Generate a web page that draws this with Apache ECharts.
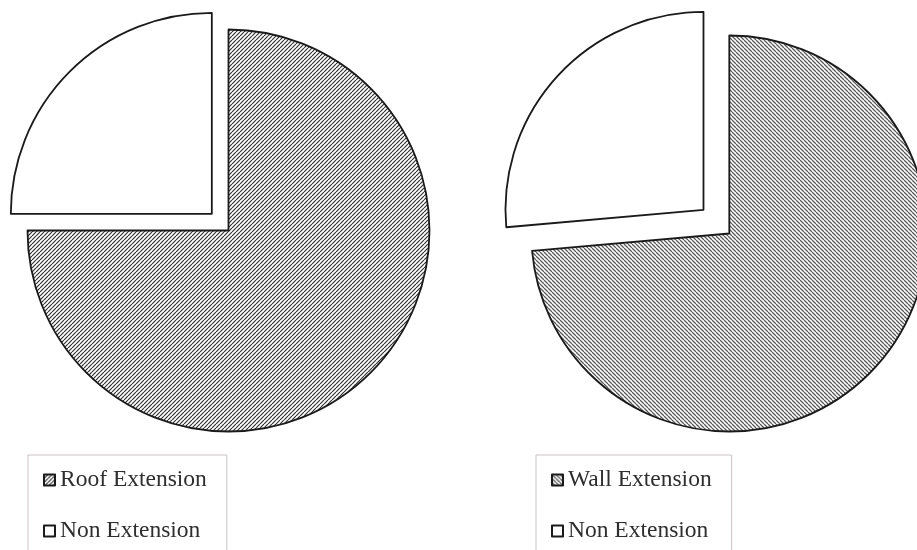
<!DOCTYPE html>
<html>
<head>
<meta charset="utf-8">
<style>
  html, body { margin: 0; padding: 0; background: #fff; }
  #chart { width: 917px; height: 550px; }
</style>
<script src="https://cdn.jsdelivr.net/npm/echarts@6/dist/echarts.min.js"></script>
</head>
<body>
<div id="chart"></div>
<script>
// Share of buildings by extension type
const roofNames = ['Roof Extension', 'Non Extension'];
const roofValues = [75, 25];
const wallNames = ['Wall Extension', 'Non Extension'];
const wallValues = [73.6, 26.4];

// Diagonal hatch tile; dir '/' or '\\'
function hatch(size, color, width, dir) {
  const c = document.createElement('canvas');
  c.width = size; c.height = size;
  const g = c.getContext('2d');
  g.fillStyle = '#fff';
  g.fillRect(0, 0, size, size);
  g.strokeStyle = color;
  g.lineWidth = width;
  g.beginPath();
  for (let k = -1; k <= 1; k++) {
    if (dir === '/') {
      g.moveTo(k * size, size); g.lineTo(k * size + size, 0);
    } else {
      g.moveTo(k * size, 0); g.lineTo(k * size + size, size);
    }
  }
  g.stroke();
  return { image: c, repeat: 'repeat' };
}

const roofFill = hatch(4, '#333333', 1.2, '/');
const wallFill = hatch(4, '#5a5a5a', 1.3, '\\');

function pieData(names, values, fill) {
  return names.map((n, i) => ({
    name: n,
    value: values[i],
    selected: i === 1,
    itemStyle: { color: i === 0 ? fill : '#ffffff' }
  }));
}

function legendFor(seriesIdx, names, left) {
  return {
    type: 'plain',
    orient: 'vertical',
    seriesIndex: seriesIdx,
    data: names.map(n => ({ name: n })),
    left: left,
    top: 455,
    height: 120,
    backgroundColor: '#fff',
    borderColor: '#cbc3c3',
    borderWidth: 1,
    padding: [13, 20, 24, 15],
    itemWidth: 11,
    itemHeight: 11,
    itemGap: 27,
    icon: 'rect',
    selectedMode: false,
    itemStyle: { borderColor: '#1a1a1a', borderWidth: 2 },
    textStyle: { fontFamily: 'Liberation Serif', fontSize: 23.5, color: '#2e2e2e' }
  };
}

const chart = echarts.init(document.getElementById('chart'), null, { renderer: 'canvas' });
chart.setOption({
  backgroundColor: '#ffffff',
  animation: false,
  legend: [
    legendFor(0, roofNames, 28),
    legendFor(1, wallNames, 536)
  ],
  series: [
    {
      type: 'pie',
      name: 'roof',
      center: [228.5, 230.5],
      radius: 201,
      startAngle: 90,
      clockwise: true,
      selectedMode: 'multiple',
      selectedOffset: 23.6,
      label: { show: false },
      labelLine: { show: false },
      emphasis: { disabled: true },
      itemStyle: { borderColor: '#1a1a1a', borderWidth: 1.8 },
      data: pieData(roofNames, roofValues, roofFill)
    },
    {
      type: 'pie',
      name: 'wall',
      center: [729.3, 233.5],
      radius: 198,
      startAngle: 90,
      clockwise: true,
      selectedMode: 'multiple',
      selectedOffset: 35,
      label: { show: false },
      labelLine: { show: false },
      emphasis: { disabled: true },
      itemStyle: { borderColor: '#1a1a1a', borderWidth: 1.8 },
      data: pieData(wallNames, wallValues, wallFill)
    }
  ]
});
</script>
</body>
</html>
